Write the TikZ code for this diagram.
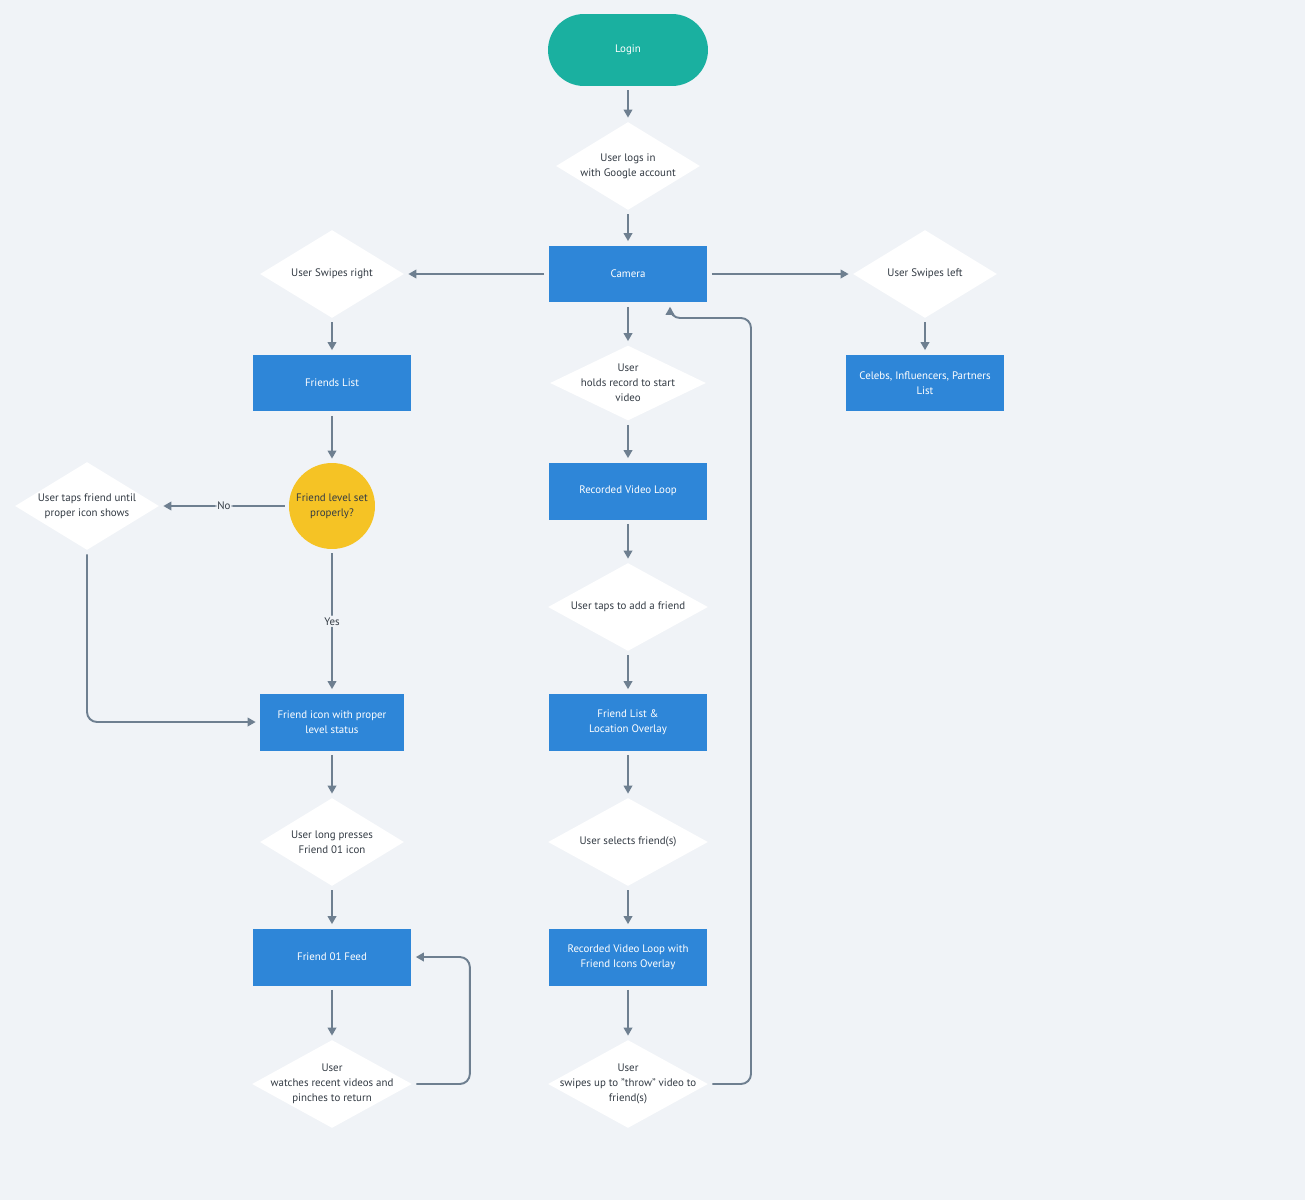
\documentclass[tikz,border=0pt]{standalone}
\usepackage{fontspec}
\setmainfont{PT Sans}
\usetikzlibrary{shapes.geometric,arrows.meta,calc}
\definecolor{bgcol}{HTML}{F0F3F7}
\definecolor{boxcol}{HTML}{2E86D8}
\definecolor{logincol}{HTML}{1AB0A0}
\definecolor{goldcol}{HTML}{F5C325}
\definecolor{linecol}{HTML}{6E7F90}
\definecolor{inkcol}{HTML}{333B44}
\tikzset{
	every node/.style={font=\fontsize{6.2}{8.4}\selectfont, align=center},
	proc/.style={fill=boxcol, text=white, minimum width=3.18cm, minimum height=1.14cm, inner sep=0},
	dia/.style={diamond, fill=white, inner sep=0, minimum width=2.88cm, minimum height=1.76cm},
	wdia/.style={dia, minimum width=3.2cm},
	txt/.style={text=inkcol},
	arr/.style={draw=linecol, line width=1.1pt, -{Triangle[length=0.16cm,width=0.17cm]}, shorten >=0.08cm, shorten <=0.08cm, rounded corners=0.2cm},
	tag/.style={fill=bgcol, text=inkcol, inner sep=1pt}
}
\begin{document}
\begin{tikzpicture}[x=0.02cm,y=-0.02cm]
\fill[bgcol] (0,0) rectangle (1305,1200);
\useasboundingbox (0,0) rectangle (1305,1200);

\node[fill=logincol, text=white, minimum width=3.2cm, minimum height=1.44cm, rounded corners=0.72cm] (login) at (628,50) {Login};
\node[dia, label={[txt]center:{User logs in\\with Google account}}] (google) at (628,166) {};
\node[proc] (cam) at (628,274) {Camera};
\node[dia, label={[txt]center:{User Swipes right}}] (right) at (332,274) {};
\node[dia, label={[txt]center:{User Swipes left}}] (left) at (925,274) {};
\node[proc] (celebs) at (925,383) {Celebs, Influencers, Partners\\List};
\node[proc] (friends) at (332,383) {Friends List};
\node[circle, fill=goldcol, text=inkcol, minimum size=1.72cm, inner sep=0] (level) at (332,506) {Friend level set\\properly?};
\node[dia, label={[txt]center:{User taps friend until\\proper icon shows}}] (taps) at (87,506) {};
\node[proc, minimum width=2.88cm] (ficon) at (332,722) {Friend icon with proper\\level status};
\node[dia, label={[txt]center:{User long presses\\Friend 01 icon}}] (press) at (332,842) {};
\node[proc] (feed) at (332,957) {Friend 01 Feed};
\node[wdia, label={[txt]center:{User\\watches recent videos and\\pinches to return}}] (watch) at (332,1084) {};

\node[dia, minimum width=3.12cm, minimum height=1.5cm, label={[txt]center:{User\\holds record to start\\video}}] (hold) at (628,383) {};
\node[proc] (loop) at (628,491) {Recorded Video Loop};
\node[wdia, label={[txt]center:{User taps to add a friend}}] (add) at (628,607) {};
\node[proc] (overlay) at (628,722) {Friend List \&\\Location Overlay};
\node[wdia, label={[txt]center:{User selects friend(s)}}] (select) at (628,842) {};
\node[proc] (icons) at (628,957) {Recorded Video Loop with\\Friend Icons Overlay};
\node[wdia, label={[txt]center:{User\\swipes up to "throw" video to\\friend(s)}}] (throw) at (628,1084) {};
\coordinate (back) at (751,318);

\draw[arr] (login) -- (google);
\draw[arr] (google) -- (cam);
\draw[arr] (cam) -- (right);
\draw[arr] (cam) -- (left);
\draw[arr] (left) -- (celebs);
\draw[arr] (right) -- (friends);
\draw[arr] (friends) -- (level);
\draw[arr] (level) -- node[tag] {No} (taps);
\draw[arr] (level) -- node[tag] {Yes} (ficon);
\draw[arr] (taps.south) |- (ficon.west);
\draw[arr] (ficon) -- (press);
\draw[arr] (press) -- (feed);
\draw[arr] (feed) -- (watch);
\draw[arr] (watch.east) -| ($(feed.east)+(58,0)$) -- (feed.east);
\draw[arr] (cam) -- (hold);
\draw[arr] (hold) -- (loop);
\draw[arr] (loop) -- (add);
\draw[arr] (add) -- (overlay);
\draw[arr] (overlay) -- (select);
\draw[arr] (select) -- (icons);
\draw[arr] (icons) -- (throw);
\draw[arr] (throw.east) -| (back) -| ($(cam.south)+(42,0)$);
\end{tikzpicture}
\end{document}
